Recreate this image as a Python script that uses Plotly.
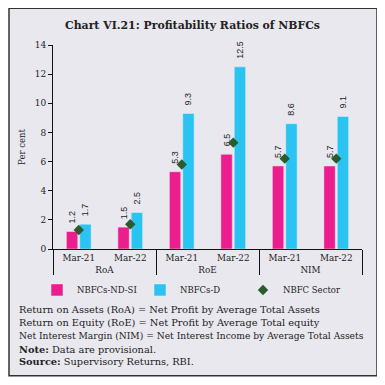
import plotly.graph_objects as go

groups = ["RoA", "RoA", "RoE", "RoE", "NIM", "NIM"]
periods = ["Mar-21", "Mar-22", "Mar-21", "Mar-22", "Mar-21", "Mar-22"]
nd_si = [1.2, 1.5, 5.3, 6.5, 5.7, 5.7]
nbfc_d = [1.7, 2.5, 9.3, 12.5, 8.6, 9.1]
sector = [1.3, 1.7, 5.8, 7.3, 6.2, 6.2]
yticks = [0, 2, 4, 6, 8, 10, 12, 14]

PINK = "#ec1e8e"
BLUE = "#2bc4f2"
GREEN = "#2c5a2c"
BG = "#e9e8ee"

# page has an 8px body margin; work in figure pixels (screen - 8)
OFF = 8
W, H = 377, 377
L, R, T, B = 45, 23, 36.7, 136
pw = W - L - R
ph = H - T - B

def px_x(sx):
    return (sx - OFF - L) / pw

def px_y(sy):
    return (H - B - (sy - OFF)) / ph

x = [groups, periods]
lab_font = dict(family="Liberation Sans, Arial, sans-serif", size=9, color="#222")
serif = "DejaVu Serif, serif"
PAD = "\u00a0\u00a0"

fig = go.Figure()
fig.add_trace(go.Bar(x=x, y=nd_si, name="NBFCs-ND-SI", marker_color=PINK,
                     text=[PAD + f"{v:.1f}" for v in nd_si], textposition="outside",
                     textangle=-90, textfont=lab_font, cliponaxis=False,
                     constraintext="none"))
fig.add_trace(go.Bar(x=x, y=nbfc_d, name="NBFCs-D", marker_color=BLUE,
                     text=[PAD + f"{v:.1f}" for v in nbfc_d], textposition="outside",
                     textangle=-90, textfont=lab_font, cliponaxis=False,
                     constraintext="none"))
fig.add_trace(go.Scatter(x=x, y=sector, name="NBFC Sector", mode="markers",
                         marker=dict(symbol="diamond", size=8, color=GREEN),
                         cliponaxis=False))

fig.update_layout(
    width=W, height=H,
    margin=dict(l=L, r=R, t=T, b=B, autoexpand=False),
    paper_bgcolor="white",
    plot_bgcolor="rgba(0,0,0,0)",
    barmode="group", bargap=0.48, bargroupgap=0.15,
    font=dict(family=serif, size=9, color="#222"),
    showlegend=True,
    legend=dict(orientation="h", x=px_x(37), y=px_y(290), xanchor="left",
                yanchor="middle", font=dict(family=serif, size=8.5, color="#222"),
                bgcolor="rgba(0,0,0,0)", entrywidth=58, entrywidthmode="pixels",
                tracegroupgap=0, itemwidth=30),
    title=dict(text="<b>Chart VI.21: Profitability Ratios of NBFCs</b>",
               xref="container", x=(192.5 - OFF) / W, xanchor="center",
               y=1 - (25 - OFF) / H, yref="container", yanchor="middle",
               font=dict(family=serif, size=10.9, color="#222")),
)

fig.update_xaxes(showline=True, linecolor="#111", linewidth=1, ticks="",
                 showgrid=False, showdividers=True, dividercolor="#111",
                 dividerwidth=1,
                 tickfont=dict(family=serif, size=8.8, color="#222"))
fig.update_yaxes(range=[0, 14], tickvals=yticks, showline=True, linecolor="#111",
                 linewidth=1, ticks="outside", ticklen=4, tickcolor="#111",
                 showgrid=False, zeroline=False,
                 tickfont=dict(family=serif, size=9, color="#222"),
                 title=dict(text="Per cent", standoff=7,
                            font=dict(family=serif, size=8.5, color="#222")))

fig.add_shape(type="rect", xref="paper", yref="paper",
              x0=px_x(9), x1=px_x(377), y0=px_y(376), y1=px_y(8),
              fillcolor=BG, line=dict(color="#333", width=1.5), layer="below")

notes = [
    ("Return on Assets (RoA) = Net Profit by Average Total Assets", 309.3, 9.8),
    ("Return on Equity (RoE) = Net Profit by Average Total equity", 322.7, 9.8),
    ("Net Interest Margin (NIM) = Net Interest Income by Average Total Assets", 336, 9.15),
    ("<b>Note:</b> Data are provisional.", 349.3, 9.8),
    ("<b>Source:</b> Supervisory Returns, RBI.", 362, 9.8),
]
for txt, yy, fs in notes:
    fig.add_annotation(text=txt, xref="paper", yref="paper", x=px_x(17), y=px_y(yy),
                       xanchor="left", yanchor="middle", showarrow=False,
                       font=dict(family=serif, size=fs, color="#222"))

fig.write_html("out.html")
